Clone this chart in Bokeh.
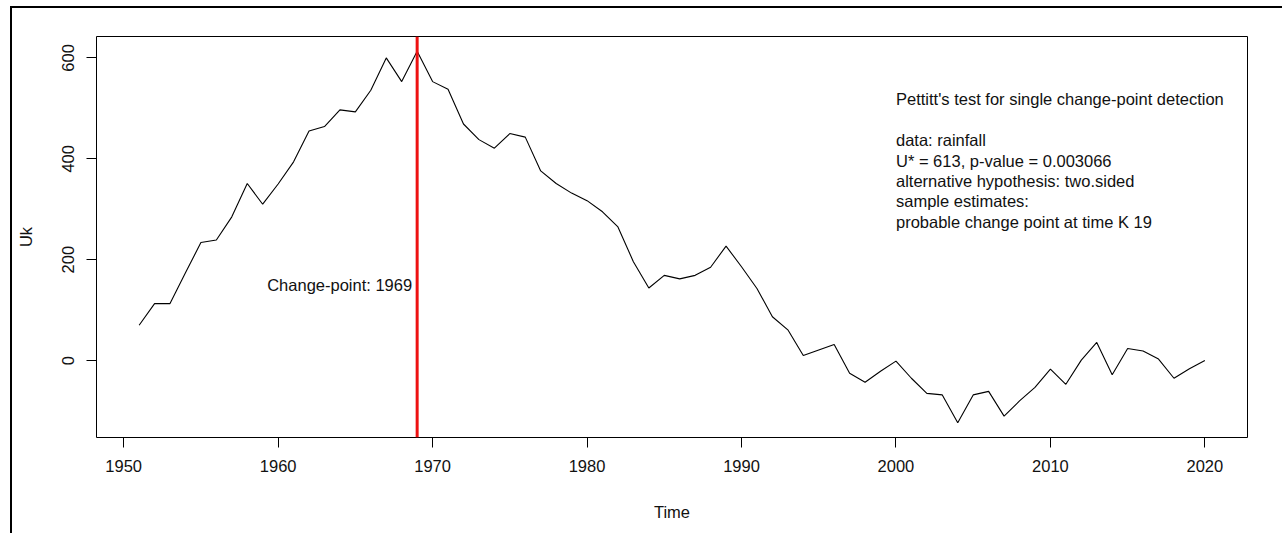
from bokeh.plotting import figure
from bokeh.models import Span, FixedTicker, Range1d, ColumnDataSource
from bokeh.embed import file_html
from bokeh.resources import INLINE
from bokeh.core.properties import value

# ---- data ----
years = list(range(1951, 2021))
uk = [70, 113, 113, 174, 234, 239, 285, 351, 310, 350,
      394, 455, 464, 497, 493, 536, 600, 553, 613, 553,
      538, 469, 438, 421, 450, 443, 376, 351, 332, 317,
      295, 265, 196, 144, 169, 162, 169, 185, 227, 186,
      143, 87, 61, 10, 21, 32, -25, -43, -21, -1,
      -35, -65, -68, -123, -68, -61, -110, -80, -53, -17,
      -47, 1, 36, -28, 24, 19, 3, -35, -16, 0]

x_ticks = [1950, 1960, 1970, 1980, 1990, 2000, 2010, 2020]
y_ticks = [0, 200, 400, 600]

change_year = 1969
change_label = "Change-point: 1969"
change_label_y = 150

test_lines = [
    "Pettitt's test for single change-point detection",
    "",
    "data:  rainfall",
    "U* = 613, p-value = 0.003066",
    "alternative hypothesis: two.sided",
    "sample estimates:",
    "probable change point at time K 19",
]
test_x = 2000
test_top_y = 518
test_step = 40.5

FONT = "Liberation Sans"
FS = "16.5px"
TXT = "#111111"

# R-style 4% range extension
xmin, xmax = min(years), max(years)
ymin, ymax = min(uk), max(uk)
xpad = (xmax - xmin) * 0.04
ypad = (ymax - ymin) * 0.04

p = figure(width=1272, height=527, output_backend="svg", toolbar_location=None,
           x_range=Range1d(xmin - xpad, xmax + xpad),
           y_range=Range1d(ymin - ypad, ymax + ypad),
           min_border_left=84, min_border_right=37,
           min_border_top=28, min_border_bottom=98,
           x_axis_label="Time", y_axis_label="Uk")
p.styles = {"border-top": "2px solid black", "border-left": "2px solid black",
            "margin-left": "10px", "margin-top": "6px"}

p.grid.visible = False
p.outline_line_color = "black"
p.outline_line_alpha = 1
p.outline_line_width = 1

for ax, ticks in ((p.xaxis, x_ticks), (p.yaxis, y_ticks)):
    ax.ticker = FixedTicker(ticks=ticks)
    ax.minor_tick_line_color = None
    ax.major_tick_in = 0
    ax.major_tick_out = 10
    ax.major_tick_line_color = "black"
    ax.axis_line_color = None
    ax.major_label_text_font = FONT
    ax.major_label_text_font_size = FS
    ax.major_label_text_color = TXT
    ax.major_label_standoff = 12
    ax.axis_label_text_font = FONT
    ax.axis_label_text_font_size = FS
    ax.axis_label_text_font_style = "normal"
    ax.axis_label_text_color = TXT

p.yaxis.major_label_orientation = "vertical"
p.yaxis.axis_label_standoff = 25
p.xaxis.axis_label_standoff = 28

src = ColumnDataSource(dict(x=years, y=uk))
p.line("x", "y", source=src, line_color="black", line_width=1.1)

p.add_layout(Span(location=change_year, dimension="height",
                  line_color="#ee1111", line_width=3))

p.text(x=[change_year], y=[change_label_y], text=[change_label],
       text_align="right", text_baseline="middle", x_offset=-5,
       text_font=value(FONT), text_font_size=FS, text_color=TXT)

ty = [test_top_y - i * test_step for i in range(len(test_lines))]
p.text(x=[test_x] * len(test_lines), y=ty, text=test_lines,
       text_align="left", text_baseline="middle",
       text_font=value(FONT), text_font_size=FS, text_color=TXT)

open("out.html", "w").write(file_html(p, INLINE))
